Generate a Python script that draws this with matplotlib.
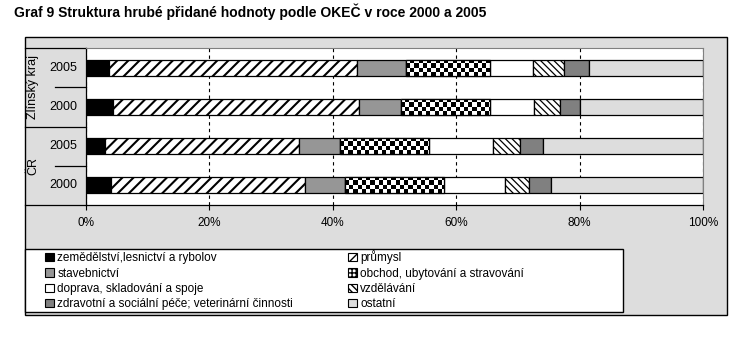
import numpy as np
import matplotlib
matplotlib.use("Agg")
import matplotlib.pyplot as plt
from matplotlib.patches import Rectangle, Patch
from matplotlib.transforms import blended_transform_factory

plt.rcParams['font.family'] = ['Liberation Sans', 'DejaVu Sans']

# ---------------- data ----------------
title = "Graf 9 Struktura hrubé přidané hodnoty podle OKEČ v roce 2000 a 2005"
groups = ["ČR", "Zlínský kraj"]
years = ["2000", "2005", "2000", "2005"]          # rows bottom -> top
row_group = [0, 0, 1, 1]

sectors = [
    "zemědělství,lesnictví a rybolov",
    "průmysl",
    "stavebnictví",
    "obchod, ubytování a stravování",
    "doprava, skladování a spoje",
    "vzdělávání",
    "zdravotní a sociální péče; veterinární činnosti",
    "ostatní",
]
# values (%) per row: ČR 2000, ČR 2005, Zlínský 2000, Zlínský 2005
zemedelstvi = [4.0, 3.1, 4.3, 3.8]
prumysl = [31.5, 31.5, 40.0, 40.1]
stavebnictvi = [6.5, 6.6, 6.8, 8.0]
obchod = [16.1, 14.4, 14.4, 13.5]
doprava = [9.8, 10.4, 7.1, 7.1]
vzdelavani = [3.9, 4.3, 4.3, 4.9]
zdravotni = [3.6, 3.8, 3.2, 4.2]
ostatni = [24.6, 25.9, 19.9, 18.4]
series = [zemedelstvi, prumysl, stavebnictvi, obchod, doprava, vzdelavani, zdravotni, ostatni]
xticks = [0, 20, 40, 60, 80, 100]
xticklabels = ["0%", "20%", "40%", "60%", "80%", "100%"]

# ---------------- styles ----------------
styles = [
    dict(fc="black", hatch=None, hlw=1.0, checker=False),
    dict(fc="white", hatch="///", hlw=1.5, checker=False),
    dict(fc="#969696", hatch=None, hlw=1.0, checker=False),
    dict(fc="white", hatch=None, hlw=1.0, checker=True),
    dict(fc="white", hatch=None, hlw=1.0, checker=False),
    dict(fc="white", hatch="\\\\\\\\\\", hlw=0.9, checker=False),
    dict(fc="#808080", hatch=None, hlw=1.0, checker=False),
    dict(fc="#dddddd", hatch=None, hlw=1.0, checker=False),
]

W, H = 749, 351
fig = plt.figure(figsize=(W / 100, H / 100), dpi=100)
fig.patch.set_facecolor("white")

def fx(x):
    return x / W

def fy(y):
    return 1 - y / H

# outer gray chart area
fig.add_artist(Rectangle((fx(25), fy(315)), fx(727) - fx(25), fy(37) - fy(315),
                         transform=fig.transFigure, facecolor="#dddddd",
                         edgecolor="black", linewidth=1.0, zorder=-2))

fig.text(fx(14), fy(12), title, fontsize=10, fontweight="bold",
         ha="left", va="center")

ax = fig.add_axes([fx(86), fy(205), fx(703) - fx(86), fy(48) - fy(205)])
ax.set_facecolor("white")

pos = np.arange(len(years))
bh = 0.41
left = np.zeros(len(years))
for vals, st in zip(series, styles):
    vals = np.array(vals, dtype=float)
    with plt.rc_context({"hatch.linewidth": st["hlw"]}):
        bars = ax.barh(pos, vals, height=bh, left=left, color=st["fc"],
                       edgecolor="black", linewidth=0.9, hatch=st["hatch"], zorder=2)
    for b in bars:
        if hasattr(b, "set_hatch_linewidth"):
            b.set_hatch_linewidth(st["hlw"])
    if st["checker"]:
        for b in bars:
            x0, y0 = b.get_x(), b.get_y()
            w, h = b.get_width(), b.get_height()
            cx = 0.68
            nx = int(np.ceil(w / cx))
            ny = 4
            ii, jj = np.meshgrid(np.arange(nx), np.arange(ny))
            img = ((ii + jj) % 2).astype(float)
            im = ax.imshow(img, extent=(x0, x0 + nx * cx, y0, y0 + h), cmap="gray",
                           vmin=0, vmax=1, interpolation="nearest", aspect="auto",
                           origin="lower", zorder=2.1)
            im.set_clip_path(b)
            ax.add_patch(Rectangle((x0, y0), w, h, facecolor="none", edgecolor="black",
                                   linewidth=0.9, zorder=2.2))
    left += vals

ax.set_xlim(0, 100)
ax.set_ylim(-0.5, len(years) - 0.5)
ax.set_xticks(xticks)
ax.set_xticklabels(xticklabels, fontsize=8.5)
ax.set_yticks([])
ax.tick_params(axis="x", direction="out", length=3.8, width=0.8, pad=5, colors="black")
ax.xaxis.grid(True, color="black", linestyle=(0, (3, 3)), linewidth=0.8)
ax.set_axisbelow(True)
for s in ["top", "right"]:
    ax.spines[s].set_color("#808080")
    ax.spines[s].set_linewidth(0.8)
for s in ["left", "bottom"]:
    ax.spines[s].set_color("black")
    ax.spines[s].set_linewidth(0.9)

# category axis (multi-level)
tr = blended_transform_factory(ax.transAxes, ax.transData)
xl_outer = (25 - 86) / 617
xl_year = (55 - 86) / 617
for yy in [-0.5, 1.5, len(years) - 0.5]:
    ax.plot([xl_outer, 0], [yy, yy], transform=tr, color="black", lw=0.9, clip_on=False)
for yy in [0.5, 2.5]:
    ax.plot([xl_year, 0], [yy, yy], transform=tr, color="black", lw=0.9, clip_on=False)
for p, yr in zip(pos, years):
    ax.text((63.5 - 86) / 617, p, yr, transform=tr, ha="center", va="center", fontsize=9)
for gi, g in enumerate(groups):
    ys = [p for p, rg in zip(pos, row_group) if rg == gi]
    ax.text((33 - 86) / 617, np.mean(ys), g, transform=tr, ha="center", va="center",
            rotation=90, fontsize=9)

# legend
fig.add_artist(Rectangle((fx(25), fy(312)), fx(623) - fx(25), fy(249) - fy(312),
                         transform=fig.transFigure, facecolor="white",
                         edgecolor="black", linewidth=1.0, zorder=4))

def handle(st):
    if st["checker"]:
        return Patch(facecolor="white", edgecolor="black", hatch="++++", linewidth=0.8)
    return Patch(facecolor=st["fc"], edgecolor="black", hatch=st["hatch"], linewidth=0.8)

col1 = [0, 2, 4, 6]
col2 = [1, 3, 5, 7]
for cols, xpos, ypos in [(col1, 43, 250), (col2, 346, 248)]:
    leg = fig.legend([handle(styles[i]) for i in cols], [sectors[i] for i in cols],
                     loc="upper left", bbox_to_anchor=(fx(xpos), fy(ypos)),
                     frameon=False, fontsize=8.5, handlelength=0.7, handleheight=0.7,
                     handletextpad=0.3, labelspacing=0.28, borderpad=0.2,
                     borderaxespad=0)
    leg.set_zorder(5)

fig.savefig("out.png", dpi=100)
